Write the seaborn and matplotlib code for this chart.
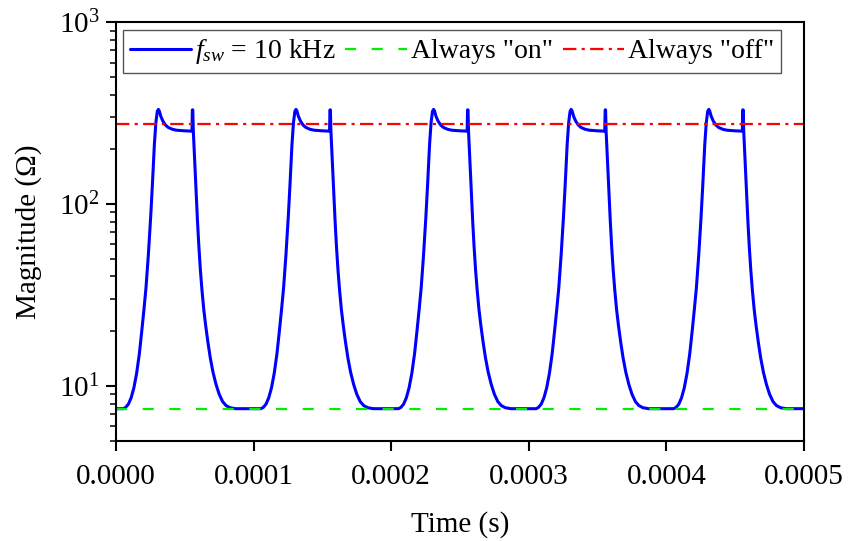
import numpy as np
import pandas as pd
import matplotlib
matplotlib.use("Agg")
import matplotlib.pyplot as plt
import matplotlib.ticker as mticker
import seaborn as sns

# ---- data ----
# one switching cycle, time in microseconds from cycle start, impedance in ohm
cycle_t_us = [0.0, 5.3, 7.0, 9.0, 11.0, 13.0, 15.0, 17.0, 18.7, 20.3, 21.8,
              23.5, 25.2, 26.4, 27.9, 29.0, 30.0, 30.8, 31.5, 32.5, 34.0,
              36.0, 38.0, 41.0, 44.0, 50.0, 55.2, 55.5, 55.8, 56.2, 56.8,
              57.5, 58.3, 59.2, 60.2, 61.3, 62.5, 63.8, 65.2, 66.8, 68.5,
              70.5, 72.7, 75.0, 77.5, 80.0, 83.0, 87.0, 99.9]
cycle_z = [7.5, 7.5, 7.62, 7.94, 8.61, 9.77, 11.75, 15.1, 19.95, 26.3, 34.7,
           52.5, 85.1, 125.9, 213.8, 281.8, 323.6, 332, 325, 305, 287,
           272, 264, 258, 255, 253, 252, 330, 330, 251, 199.5,
           151.4, 112.2, 81.3, 58.9, 43.7, 33.5, 26.3, 21.4, 17.4, 14.3,
           11.9, 10.2, 9.0, 8.2, 7.8, 7.59, 7.5, 7.5]
cycle_starts_us = [0, 100, 200, 300, 400]
t_end_us = 500

z_always_on = 7.5
z_always_off = 275

labels = [r"$f_{sw}$ = 10 kHz", 'Always "on"', 'Always "off"']
x_ticks = [0.0, 0.0001, 0.0002, 0.0003, 0.0004, 0.0005]

# ---- assemble the measured trace ----
t_all, z_all = [], []
for s in cycle_starts_us:
    for t, z in zip(cycle_t_us, cycle_z):
        if s + t <= t_end_us:
            t_all.append((s + t) * 1e-6)
            z_all.append(z)
t_all.append(t_end_us * 1e-6)
z_all.append(7.5)
df = pd.DataFrame({"Time": t_all, "Z": z_all})
df_on = pd.DataFrame({"Time": [0, t_end_us * 1e-6], "Z": [z_always_on] * 2})
df_off = pd.DataFrame({"Time": [0, t_end_us * 1e-6], "Z": [z_always_off] * 2})

# ---- style ----
sns.set_style("ticks")
plt.rcParams["font.family"] = ["Liberation Serif", "DejaVu Serif"]
plt.rcParams["mathtext.fontset"] = "custom"
plt.rcParams["mathtext.rm"] = "Liberation Serif"
plt.rcParams["mathtext.it"] = "Liberation Serif:italic"
plt.rcParams["mathtext.bf"] = "Liberation Serif:bold"
plt.rcParams["text.color"] = "black"
plt.rcParams["axes.labelcolor"] = "black"

fig = plt.figure(figsize=(8.49, 5.41), dpi=100)
ax = fig.add_axes([116 / 849, 1 - 440.7 / 541, (804 - 116) / 849, (440.7 - 22.3) / 541])

sns.lineplot(data=df, x="Time", y="Z", ax=ax, color="#0000FF", lw=2.2,
             sort=False, estimator=None, label=labels[0])
sns.lineplot(data=df_on, x="Time", y="Z", ax=ax, color="#00EE00", lw=1.6,
             dashes=False, label=labels[1]).lines[-1].set_dashes((5, 7))
sns.lineplot(data=df_off, x="Time", y="Z", ax=ax, color="#FF0000", lw=1.6,
             label=labels[2]).lines[-1].set_dashes((6, 2.4, 1.4, 2.4))

ax.set_yscale("log")
ax.set_ylim(5, 1000)
ax.set_xlim(0, 0.0005)
ax.set_xticks(x_ticks)
ax.xaxis.set_major_formatter(mticker.FormatStrFormatter("%.4f"))
ax.yaxis.set_major_locator(mticker.LogLocator(base=10, numticks=10))
ax.yaxis.set_minor_locator(mticker.LogLocator(base=10, subs=np.arange(2, 10), numticks=20))
ax.yaxis.set_minor_formatter(mticker.NullFormatter())

for sp in ax.spines.values():
    sp.set_linewidth(1.5)
    sp.set_color("black")
ax.tick_params(axis="both", which="major", direction="out", length=7, width=1.5,
               labelsize=21, pad=5, colors="black")
ax.tick_params(axis="x", which="major", pad=10)
ax.tick_params(axis="y", which="minor", direction="out", length=4, width=1.3)
ax.tick_params(axis="x", which="minor", length=0)

ax.set_xlabel("Time (s)", fontsize=21, labelpad=15)
ax.set_ylabel("Magnitude (Ω)", fontsize=21, labelpad=12)

leg = ax.legend(loc="upper left", bbox_to_anchor=(7 / 688, 1 - 8 / 418.4),
                borderaxespad=0, ncol=3, fontsize=20, handlelength=2.2,
                handletextpad=0.15, columnspacing=0.35, frameon=True,
                fancybox=False, framealpha=1, borderpad=0.25)
leg.get_frame().set_edgecolor("#555555")
leg.get_frame().set_linewidth(1.0)
for txt in leg.get_texts():
    txt.set_color("black")

fig.savefig("out.png", dpi=100)
